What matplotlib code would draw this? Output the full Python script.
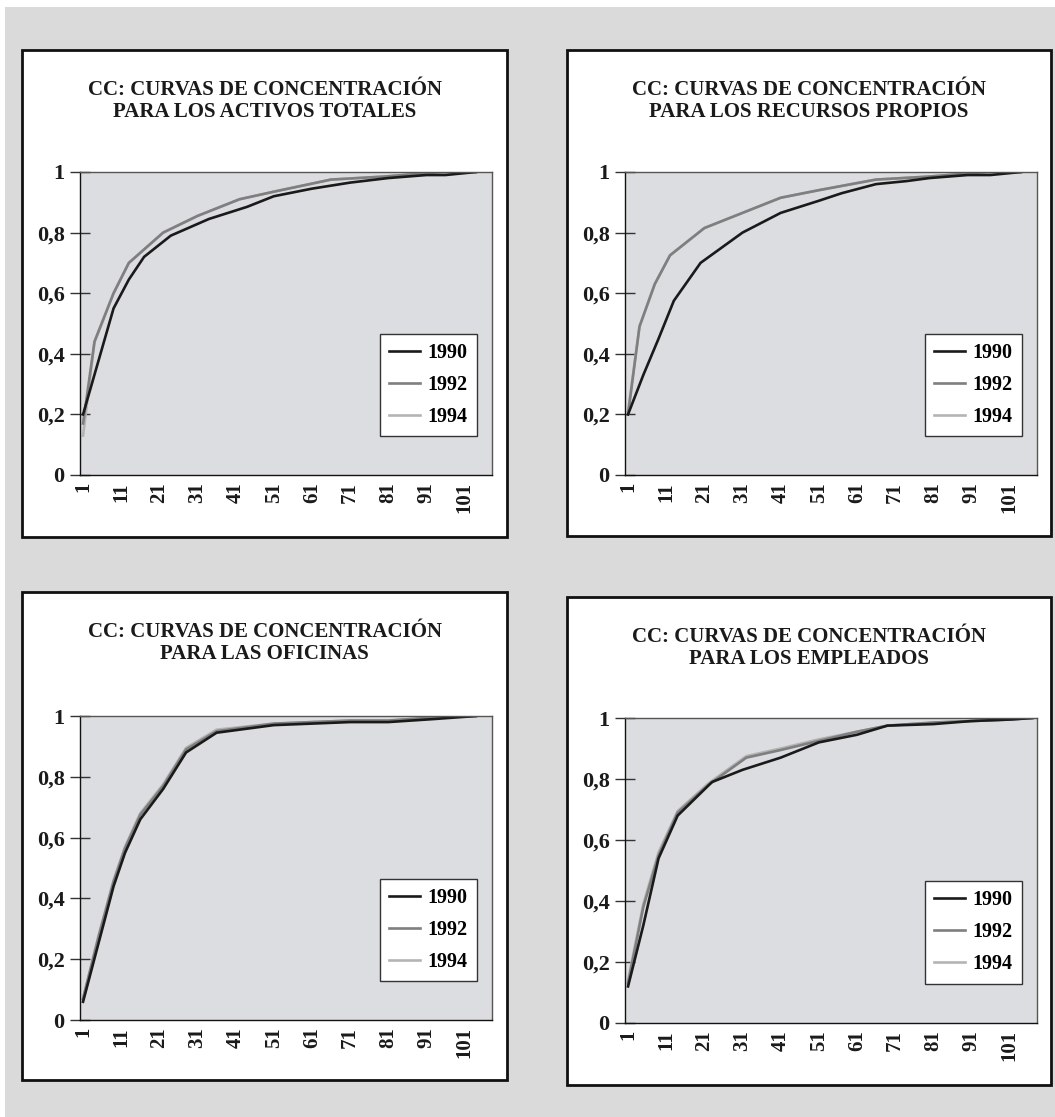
import matplotlib.pyplot as plt
from matplotlib.patches import Rectangle

plt.rcParams['font.family'] = ['Liberation Serif', 'DejaVu Serif']
plt.rcParams['font.weight'] = 'bold'

W, H = 1055, 1117

years = ['1990', '1992', '1994']
line_colors = ['#1a1a1a', '#7f7f7f', '#b4b4b4']

titles = [
    'CC: CURVAS DE CONCENTRACIÓN\nPARA LOS ACTIVOS TOTALES',
    'CC: CURVAS DE CONCENTRACIÓN\nPARA LOS RECURSOS PROPIOS',
    'CC: CURVAS DE CONCENTRACIÓN\nPARA LAS OFICINAS',
    'CC: CURVAS DE CONCENTRACIÓN\nPARA LOS EMPLEADOS',
]

# activos totales
act_x90 = [1, 9, 13, 17, 24, 34, 44, 51, 61, 71, 81, 91, 96, 104]
act_y90 = [0.20, 0.55, 0.645, 0.72, 0.79, 0.845, 0.885, 0.92, 0.945, 0.965, 0.98, 0.99, 0.99, 1.0]
act_x92 = [1, 4, 9, 13, 22, 31, 42, 51, 66, 80, 95, 104]
act_y92 = [0.17, 0.44, 0.60, 0.70, 0.80, 0.855, 0.91, 0.935, 0.975, 0.985, 1.0, 1.0]
act_x94 = [1, 4, 9, 13, 22, 31, 42, 51, 66, 80, 95, 104]
act_y94 = [0.13, 0.44, 0.60, 0.70, 0.80, 0.855, 0.91, 0.935, 0.975, 0.985, 1.0, 1.0]

# recursos propios
rec_x90 = [1, 5, 9, 13, 20, 31, 41, 51, 57, 66, 74, 80, 90, 96, 104]
rec_y90 = [0.20, 0.33, 0.45, 0.575, 0.70, 0.80, 0.865, 0.905, 0.93, 0.96, 0.97, 0.98, 0.99, 0.99, 1.0]
rec_x92 = [1, 4, 8, 12, 21, 31, 41, 51, 66, 80, 95, 104]
rec_y92 = [0.20, 0.49, 0.63, 0.725, 0.815, 0.865, 0.915, 0.94, 0.975, 0.985, 1.0, 1.0]
rec_x94 = [1, 4, 8, 12, 21, 31, 41, 51, 66, 80, 95, 104]
rec_y94 = [0.21, 0.49, 0.63, 0.725, 0.815, 0.865, 0.915, 0.94, 0.975, 0.985, 1.0, 1.0]

# oficinas
ofi_x90 = [1, 5, 9, 12, 16, 22, 28, 36, 51, 71, 81, 93, 104]
ofi_y90 = [0.06, 0.25, 0.44, 0.55, 0.66, 0.76, 0.88, 0.945, 0.97, 0.98, 0.98, 0.99, 1.0]
ofi_x92 = [1, 5, 9, 12, 16, 22, 28, 36, 51, 71, 81, 93, 104]
ofi_y92 = [0.07, 0.27, 0.455, 0.565, 0.675, 0.77, 0.89, 0.95, 0.975, 0.985, 0.985, 0.995, 1.0]
ofi_x94 = [1, 5, 9, 12, 16, 22, 28, 36, 51, 71, 81, 93, 104]
ofi_y94 = [0.07, 0.275, 0.46, 0.57, 0.68, 0.775, 0.895, 0.955, 0.975, 0.985, 0.985, 0.995, 1.0]

# empleados
emp_x90 = [1, 5, 9, 14, 23, 31, 41, 51, 61, 69, 81, 91, 101, 107]
emp_y90 = [0.12, 0.32, 0.54, 0.68, 0.79, 0.83, 0.87, 0.92, 0.945, 0.975, 0.98, 0.99, 0.995, 1.0]
emp_x92 = [1, 5, 9, 14, 22, 32, 41, 51, 61, 69, 81, 91, 101, 107]
emp_y92 = [0.13, 0.38, 0.55, 0.69, 0.78, 0.87, 0.895, 0.925, 0.955, 0.975, 0.985, 0.99, 0.995, 1.0]
emp_x94 = [1, 5, 9, 14, 22, 32, 41, 51, 61, 69, 81, 91, 101, 107]
emp_y94 = [0.14, 0.39, 0.56, 0.695, 0.785, 0.875, 0.9, 0.93, 0.955, 0.975, 0.985, 0.99, 0.995, 1.0]

series = [
    [(act_x90, act_y90), (act_x92, act_y92), (act_x94, act_y94)],
    [(rec_x90, rec_y90), (rec_x92, rec_y92), (rec_x94, rec_y94)],
    [(ofi_x90, ofi_y90), (ofi_x92, ofi_y92), (ofi_x94, ofi_y94)],
    [(emp_x90, emp_y90), (emp_x92, emp_y92), (emp_x94, emp_y94)],
]

y_ticks = [0, 0.2, 0.4, 0.6, 0.8, 1]
y_labels = ['0', '0,2', '0,4', '0,6', '0,8', '1']
x_ticks = [1, 11, 21, 31, 41, 51, 61, 71, 81, 91, 101]

# panel frames and plot areas, in pixels (x0, y0, x1, y1) from the top-left
panels = [(22, 50, 507, 537), (567, 50, 1051, 536),
          (22, 592, 507, 1080), (567, 597, 1051, 1085)]
plots = [(80, 172, 492, 475), (625, 172, 1037, 475),
         (80, 716, 492, 1020), (625, 718, 1037, 1023)]


def frac(box):
    x0, y0, x1, y1 = box
    return [x0 / W, 1 - y1 / H, (x1 - x0) / W, (y1 - y0) / H]


fig = plt.figure(figsize=(W / 100, H / 100), dpi=100, facecolor='white')
fig.add_artist(Rectangle((5 / W, 0), 1, 1 - 7 / H, transform=fig.transFigure,
                         facecolor='#dadada', edgecolor='none', zorder=0))

for i in range(4):
    l, b, w, h = frac(panels[i])
    fig.add_artist(Rectangle((l, b), w, h, transform=fig.transFigure,
                             facecolor='white', edgecolor='#111111',
                             linewidth=2, zorder=1))
    px0, py0, px1, py1 = panels[i]
    fig.text(((px0 + px1) / 2) / W, 1 - (py0 + 30) / H, titles[i],
             ha='center', va='top', fontsize=15, fontweight='bold',
             linespacing=1.12, zorder=2, color='#1a1a1a')

    ax = fig.add_axes(frac(plots[i]))
    ax.set_zorder(3)
    ax.set_facecolor('#dcdde0')
    for k in range(3):
        xs, ys = series[i][2 - k]
        ax.plot(xs, ys, color=line_colors[2 - k], linewidth=1.9,
                label=years[2 - k], solid_joinstyle='miter')

    ax.set_xlim(0.2, 108.2)
    ax.set_ylim(0, 1)
    ax.set_yticks(y_ticks)
    ax.set_yticklabels(y_labels)
    ax.set_xticks(x_ticks)
    ax.set_xticklabels([str(t) for t in x_ticks], rotation=90)
    ax.tick_params(axis='y', direction='inout', length=14, width=1,
                   color='#333333', labelsize=16, pad=4, labelcolor='#1a1a1a')
    ax.tick_params(axis='x', length=0, labelsize=15, pad=5, labelcolor='#1a1a1a')
    for lab in ax.get_xticklabels() + ax.get_yticklabels():
        lab.set_fontweight('bold')
    for side in ['left', 'bottom']:
        ax.spines[side].set_color('#111111')
    for side in ['top', 'right']:
        ax.spines[side].set_color('#555555')
    for sp in ax.spines.values():
        sp.set_linewidth(1)

    handles, labels = ax.get_legend_handles_labels()
    leg = ax.legend(handles[::-1], labels[::-1], loc='center',
                    bbox_to_anchor=(0.846, 0.297),
                    frameon=True, fancybox=False, framealpha=1,
                    edgecolor='#333333', prop={'weight': 'bold', 'size': 14.5},
                    handlelength=1.5, handletextpad=0.4, labelspacing=0.6,
                    borderpad=0.45, borderaxespad=0)
    leg.get_frame().set_linewidth(1)

fig.savefig('out.png', dpi=100, facecolor=fig.get_facecolor())
